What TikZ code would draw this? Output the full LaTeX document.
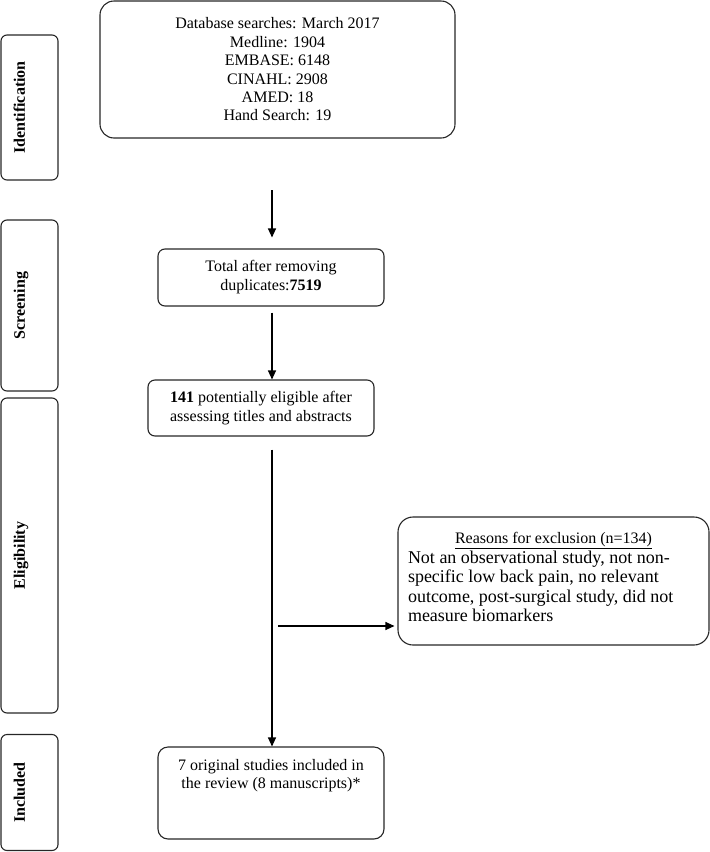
\documentclass[tikz,border=0pt]{standalone}
\usepackage{fontspec}
\setmainfont{Liberation Serif}
\usetikzlibrary{arrows.meta,calc}
\begin{document}
\begin{tikzpicture}[x=1pt,y=-1pt,
  box/.style={draw=black!85, line width=1.1pt, inner sep=0pt, align=center,
    font=\fontsize{16}{18.5}\selectfont},
  phase/.style={draw=black!85, line width=1.1pt, rounded corners=6pt, inner sep=0pt,
    minimum width=57pt},
  phlabel/.style={rotate=90, font=\fontsize{16}{18}\selectfont\bfseries,
    text height=11pt, text depth=3.5pt, inner sep=0pt},
  txt/.style={inner sep=0pt, align=center, font=\fontsize{16}{18.2}\selectfont},
  arr/.style={line width=1.1pt, draw=black, -{Triangle[length=9pt,width=8pt]}},
]
\useasboundingbox (0,0) rectangle (710,852);

% phase boxes
\node[phase, minimum height=145pt] (pid) at (29.5,107.5) {};
\node[phlabel] (lid) at (21,107.5) {Identification};
\node[phase, minimum height=171pt] (psc) at (29.5,305.5) {};
\node[phlabel] (lsc) at (21,305.5) {Screening};
\node[phase, minimum height=315pt] (pel) at (29.5,555.5) {};
\node[phlabel] (lel) at (21,555.5) {Eligibility};
\node[phase, minimum height=116pt] (pin) at (29.5,792.5) {};
\node[phlabel] (lin) at (21,792.5) {Included};

% main boxes
\node[box, rounded corners=14pt, minimum width=355pt, minimum height=137pt,
  font=\fontsize{16}{18.4}\selectfont] (db) at (277.5,69.5)
  {Database searches: March 2017\\Medline: 1904\\EMBASE: 6148\\CINAHL: 2908\\AMED: 18\\Hand Search: 19};

\node[box, rounded corners=7pt, minimum width=226pt, minimum height=57pt,
  font=\fontsize{16}{19}\selectfont] (dup) at (271,277.5)
  {Total after removing\\duplicates:\textbf{7519}};

\node[box, rounded corners=7pt, minimum width=226pt, minimum height=56pt,
  font=\fontsize{16}{19}\selectfont] (elig) at (261,408)
  {\textbf{141} potentially eligible after\\assessing titles and abstracts};

\node[box, rounded corners=10pt, minimum width=226pt, minimum height=92pt] (inc) at (271,793) {};
\node[txt, anchor=north] (inct) at ([yshift=-13pt]inc.north)
  {7 original studies included in\\the review (8 manuscripts)*};

\node[box, rounded corners=15pt, minimum width=311pt, minimum height=128pt] (excl) at (553.5,581) {};
\node[inner sep=0pt] (exclt) at ([yshift=4pt]excl.center)
  {\parbox{291pt}{\centering\fontsize{16}{20}\selectfont\underline{Reasons for exclusion (n=134)}\par
   \raggedright\fontsize{18}{19.5}\selectfont Not an observational study, not non-\\specific low back pain, no relevant\\outcome, post-surgical study, did not\\measure biomarkers}};

% connectors
\coordinate (a1) at (272,190);
\draw[arr, shorten >=11pt] (a1) -- (a1 |- dup.north);
\draw[arr] ([yshift=-6pt]dup.south -| a1) -- (elig.north -| a1);
\draw[arr] ([yshift=-13pt]elig.south -| a1) -- (inc.north -| a1);
\coordinate (h) at (278,626);
\draw[arr, shorten >=3pt] (h) -- (h -| excl.west);
\end{tikzpicture}
\end{document}
